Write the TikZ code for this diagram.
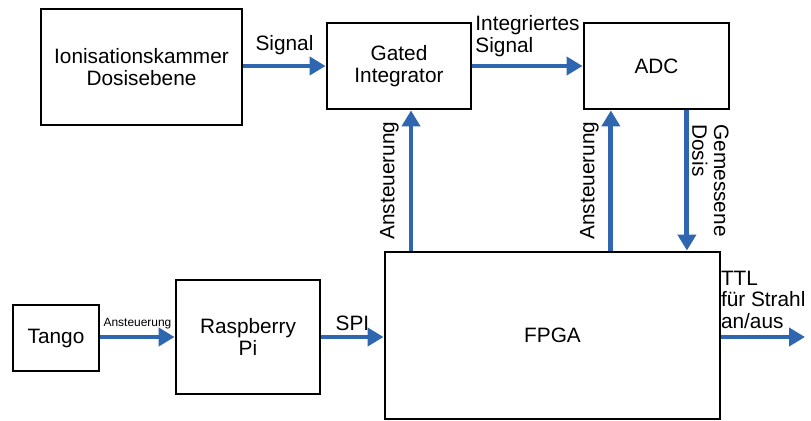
\documentclass[tikz,border=0pt]{standalone}
\usepackage{fontspec}
\setmainfont{Liberation Sans}
\usepackage{tikz}
\usetikzlibrary{arrows.meta, positioning}
\definecolor{sigblue}{RGB}{46,102,176}

\begin{document}
\begin{tikzpicture}[x=0.025cm, y=-0.025cm,
  block/.style={draw, line width=2pt, align=center, font=\fontsize{14.8}{15.5}\selectfont},
  sig/.style={sigblue, line width=3.5pt, -{Triangle[length=4mm, width=4.5mm]}},
  lab/.style={black, font=\fontsize{14.8}{15.5}\selectfont, inner sep=2pt, align=left}]
\useasboundingbox (0,0) rectangle (811,421);
\node[block, minimum width=5.025cm, minimum height=2.9cm] (ion) at (141.5,67) {Ionisationskammer\\Dosisebene};
\node[block, minimum width=3.6cm, minimum height=2.15cm] (gi) at (399,66) {Gated\\Integrator};
\node[block, minimum width=3.625cm, minimum height=2.15cm] (adc) at (656.5,66) {ADC};
\node[block, minimum width=2.15cm, minimum height=1.65cm] (tango) at (56,338) {Tango};
\node[block, minimum width=3.6cm, minimum height=2.85cm] (rpi) at (248,337) {Raspberry\\Pi};
\node[block, minimum width=8.375cm, minimum height=4.175cm] (fpga) at (552.5,335.5) {FPGA};
\coordinate (ttl) at (805,337);
\draw[sig] (ion.east |- gi) -- (gi.west) node[midway, above=4pt, lab] (lsig) {Signal};
\draw[sig] (gi.east) -- (adc.west) node[midway, above=3pt, lab] (lint) {Integriertes\\Signal};
\draw[sig] ([xshift=3mm]gi.south |- fpga.north) -- ([xshift=3mm]gi.south) node[midway, sloped, above=5pt, lab] (lgi) {Ansteuerung};
\draw[sig] ([xshift=-11.4mm]adc.south |- fpga.north) -- ([xshift=-11.4mm]adc.south) node[midway, sloped, above=5pt, lab] (ladc) {Ansteuerung};
\draw[sig] ([xshift=7.6mm]adc.south) -- ([xshift=7.6mm]adc.south |- fpga.north) node[midway, sloped, above, lab] (ldos) {Gemessene\\Dosis};
\draw[sig] (tango.east |- rpi) -- (rpi.west) node[midway, above=3pt, lab, font=\fontsize{8.5}{9}\selectfont, inner sep=1pt] (ltan) {Ansteuerung};
\draw[sig] (rpi.east) -- (rpi.east -| fpga.west) node[midway, above=1pt, lab] (lspi) {SPI};
\draw[sig] (fpga.east |- ttl) -- (ttl) node[midway, above=2pt, lab] (lttl) {TTL\\für Strahl\\an/aus};
\end{tikzpicture}
\end{document}
